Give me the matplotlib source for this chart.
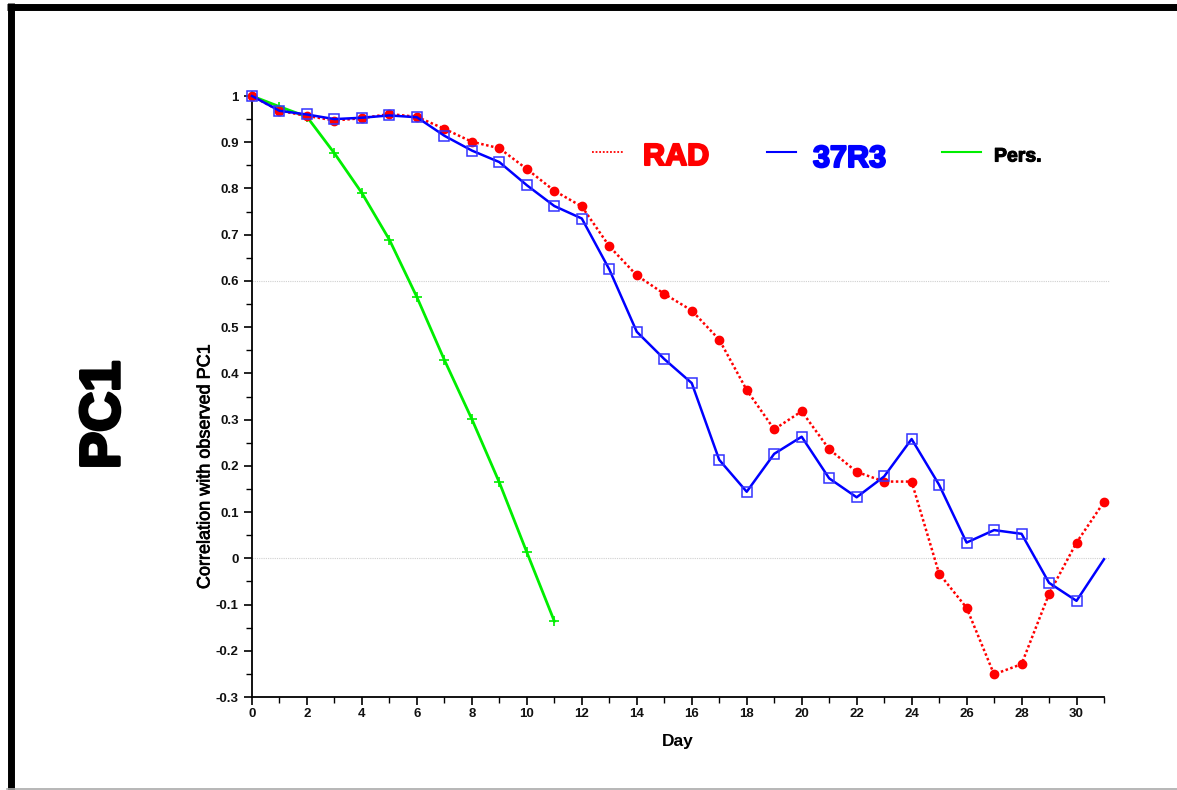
import numpy as np
import matplotlib
matplotlib.use("Agg")
import matplotlib.pyplot as plt
import matplotlib.patheffects as pe
from matplotlib.lines import Line2D
from matplotlib.ticker import MultipleLocator, FuncFormatter

plt.rcParams['font.family'] = ['Liberation Sans', 'DejaVu Sans']

# valores
days = list(range(32))
rad = [1.0, 0.968, 0.957, 0.947, 0.952, 0.961, 0.955, 0.929, 0.901, 0.887,
       0.842, 0.795, 0.761, 0.675, 0.612, 0.572, 0.536, 0.473, 0.364, 0.279,
       0.318, 0.236, 0.187, 0.166, 0.166, -0.033, -0.107, -0.251, -0.229,
       -0.077, 0.034, 0.122]
r37 = [1.0, 0.968, 0.960, 0.950, 0.953, 0.958, 0.954, 0.914, 0.882, 0.857,
       0.807, 0.762, 0.735, 0.625, 0.490, 0.431, 0.379, 0.213, 0.144, 0.226,
       0.263, 0.173, 0.132, 0.177, 0.258, 0.159, 0.034, 0.061, 0.053,
       -0.053, -0.092, -0.002]
pers_days = list(range(12))
pers = [1.0, 0.977, 0.955, 0.876, 0.790, 0.689, 0.565, 0.429, 0.301, 0.164,
        0.013, -0.136]

W, H = 1177, 790
fig = plt.figure(figsize=(W / 100, H / 100), dpi=100)
ax = fig.add_axes([252 / W, 1 - 697 / H, (1104 - 252) / W, (697 - 96) / H])

# lineas de referencia
for yv in [0.6, 0.0]:
    ax.plot([0, 31.2], [yv, yv], color='#d0d0d0', lw=0.8, ls=(0, (1, 1)),
            clip_on=False, zorder=1)

ax.plot(pers_days, pers, color='#00ee00', lw=2, marker='+', ms=7, mew=1.2,
        clip_on=False, zorder=3)
ax.plot(days, rad, color='red', lw=1.8, ls=(0, (1, 1)), marker='o', ms=6,
        clip_on=False, zorder=4)
ax.plot(days, r37, color='blue', lw=1.8, marker='s', ms=7.5, mfc='none',
        mec='#3333ff', mew=1.1, markevery=list(range(31)), clip_on=False,
        zorder=5)

ax.set_xlim(0, 31)
ax.set_ylim(-0.3, 1.0)
ax.xaxis.set_major_locator(MultipleLocator(2))
ax.xaxis.set_minor_locator(MultipleLocator(1))
ax.yaxis.set_major_locator(MultipleLocator(0.1))
ax.yaxis.set_minor_locator(MultipleLocator(0.05))
ax.yaxis.set_major_formatter(FuncFormatter(lambda v, p: f"{round(v, 2):g}" if abs(v) > 1e-9 else "0"))

for s in ['top', 'right']:
    ax.spines[s].set_visible(False)
for s in ['left', 'bottom']:
    ax.spines[s].set_linewidth(1.3)
ax.tick_params(which='major', direction='out', length=6, width=1.2, labelsize=9.5)
ax.tick_params(which='minor', direction='out', length=4, width=1.0)
ax.tick_params(axis='x', pad=2)
heavy = [pe.withStroke(linewidth=0.6, foreground='black')]
for lab in ax.get_xticklabels() + ax.get_yticklabels():
    lab.set_fontweight('bold')
    lab.set_color('#111111')

ax.set_xlabel('Day', fontsize=12.5, fontweight='bold', labelpad=10)
fig.text(205 / W, 1 - 467 / H, 'Correlation with observed PC1', rotation=90,
         fontsize=13, ha='center', va='center',
         path_effects=[pe.withStroke(linewidth=0.5, foreground='black')])

fig.text(105 / W, 1 - 415 / H, 'PC1', rotation=90, fontsize=40,
         fontweight='bold', ha='center', va='center',
         path_effects=[pe.withStroke(linewidth=2.5, foreground='black')])

# leyenda hecha a mano
ly = 1 - 152 / H
fig.add_artist(Line2D([592 / W, 623 / W], [ly, ly], color='red', lw=1.3,
                      ls=(0, (1, 1))))
fig.add_artist(Line2D([767 / W, 796 / W], [ly, ly], color='blue', lw=1.5))
fig.add_artist(Line2D([942 / W, 981 / W], [ly, ly], color='#00ee00', lw=1.5))
fig.text(643 / W, 1 - 157 / H, 'RAD', color='red', fontsize=22,
         fontweight='bold', va='center',
         path_effects=[pe.withStroke(linewidth=1.5, foreground='red')])
fig.text(813 / W, 1 - 159 / H, '37R3', color='blue', fontsize=22,
         fontweight='bold', va='center',
         path_effects=[pe.withStroke(linewidth=1.5, foreground='blue')])
fig.text(994 / W, 1 - 157 / H, 'Pers.', color='black', fontsize=14,
         fontweight='bold', va='center',
         path_effects=[pe.withStroke(linewidth=0.8, foreground='black')])

# marco
fig.add_artist(Line2D([10.5 / W, 10.5 / W], [0, 1 - 3 / H], color='black',
                      lw=5.0, solid_capstyle='butt'))
fig.add_artist(Line2D([7 / W, 1], [1 - 6.5 / H, 1 - 6.5 / H], color='black',
                      lw=5.0, solid_capstyle='butt'))
fig.add_artist(Line2D([7 / W, 1], [1 - 788.5 / H, 1 - 788.5 / H],
                      color='#aaaaaa', lw=1.2))

fig.savefig('out.png', dpi=100)
